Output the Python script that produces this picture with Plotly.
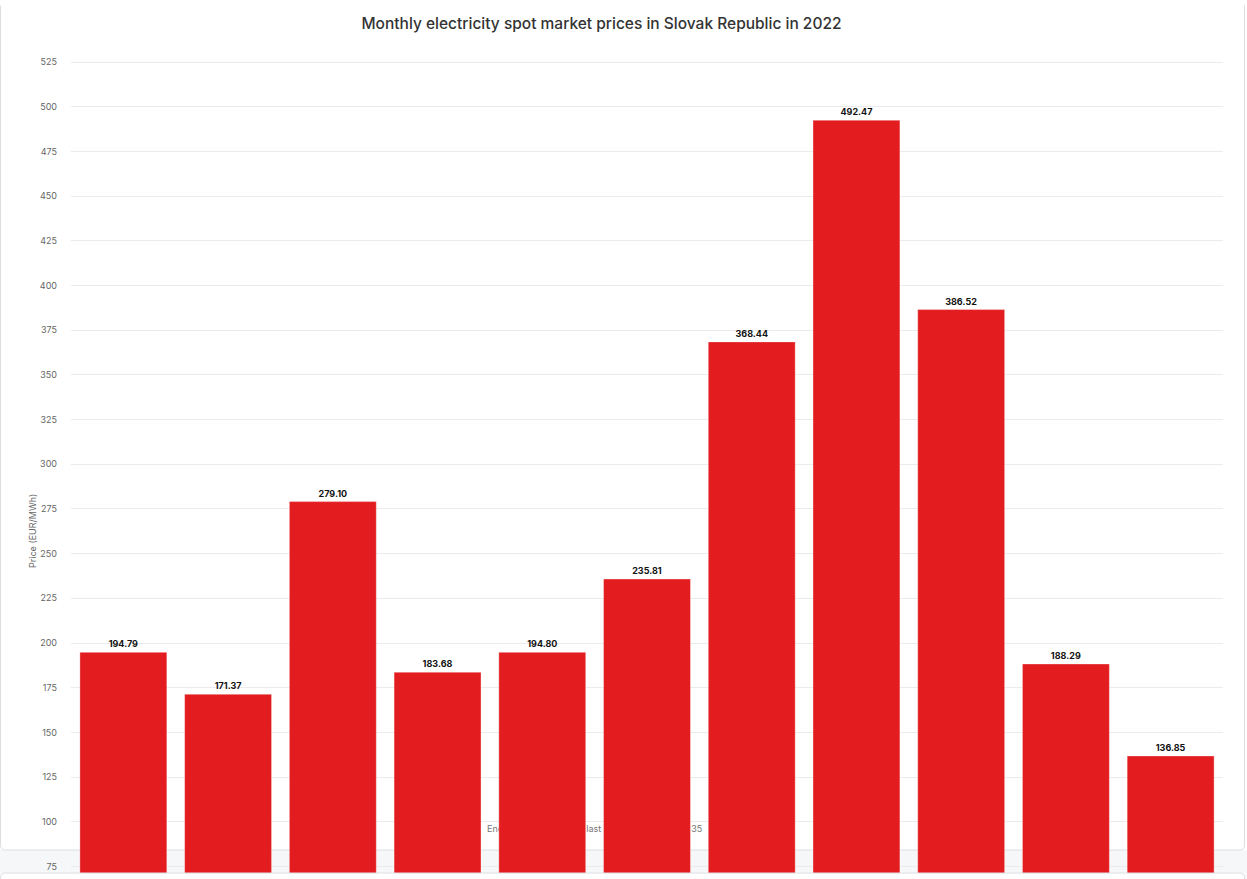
import plotly.graph_objects as go

# ---- data ----
months = ["Jan", "Feb", "Mar", "Apr", "May", "Jun", "Jul", "Aug", "Sep", "Oct", "Nov"]
prices = [194.79, 171.37, 279.10, 183.68, 194.80, 235.81, 368.44, 492.47, 386.52, 188.29, 136.85]
y_ticks = [75, 100, 125, 150, 175, 200, 225, 250, 275, 300, 325, 350, 375, 400, 425, 450, 475, 500, 525]
title_text = "Monthly electricity spot market prices in Slovak Republic in 2022"
y_title = "Price (EUR/MWh)"
footnote = "Energy spot prices SK, last updated 5.1.2023 13:35"

# ---- layout geometry (pixels) ----
W, H = 1247, 879
L, R, T, B = 71, 1223, 52, 879
px_per_unit = (866.5 - 62.0) / 450.0
y_top = 525 + (62.0 - T) / px_per_unit
y_bot = 75 - (B - 866.5) / px_per_unit


def px2x(px):
    return (px - L) / (R - L)


def py2y(py):
    return (B - py) / (B - T)


fig = go.Figure()
fig.add_trace(go.Bar(
    x=months,
    y=prices,
    marker=dict(color="#e31c1f", line=dict(color="rgba(255,255,255,0.35)", width=1)),
    texttemplate="<b>%{y:.2f}</b>",
    textposition="outside",
    textfont=dict(family="Inter", size=9, color="#111111"),
    cliponaxis=False,
    hoverinfo="skip",
))

shapes = []
# grey page strip between the two cards
shapes.append(dict(type="rect", xref="paper", yref="paper", layer="below",
                   x0=px2x(-5), x1=px2x(W + 5), y0=py2y(873), y1=py2y(850),
                   fillcolor="#f6f7f9", line=dict(width=0)))
# card outline (rounded corners)
r = 5
x0, x1, y0, y1 = 0.5, 1244.5, 0.5, 850
path = (f"M {px2x(x0)},{py2y(y0 + r)} L {px2x(x0)},{py2y(y1 - r)} "
        f"Q {px2x(x0)},{py2y(y1)} {px2x(x0 + r)},{py2y(y1)} "
        f"L {px2x(x1 - r)},{py2y(y1)} Q {px2x(x1)},{py2y(y1)} {px2x(x1)},{py2y(y1 - r)} "
        f"L {px2x(x1)},{py2y(y0 + r)}")
shapes.append(dict(type="path", xref="paper", yref="paper", layer="below",
                   path=path, line=dict(color="#dcdee2", width=1)))
# footnote text behind bars
shapes.append(dict(type="rect", xref="paper", yref="paper", layer="below",
                   x0=px2x(481), x1=px2x(800), y0=py2y(836), y1=py2y(820),
                   line=dict(width=0), fillcolor="rgba(0,0,0,0)",
                   label=dict(text=footnote, textposition="middle left",
                              font=dict(family="Inter", size=9, color="#777777"))))
# next card covering the bottom of the bars
x0b, x1b, y0b, y1b = 0.5, 1244.5, 873, 900
path2 = (f"M {px2x(x0b)},{py2y(y1b)} L {px2x(x0b)},{py2y(y0b + r)} "
         f"Q {px2x(x0b)},{py2y(y0b)} {px2x(x0b + r)},{py2y(y0b)} "
         f"L {px2x(x1b - r)},{py2y(y0b)} Q {px2x(x1b)},{py2y(y0b)} {px2x(x1b)},{py2y(y0b + r)} "
         f"L {px2x(x1b)},{py2y(y1b)} Z")
shapes.append(dict(type="rect", xref="paper", yref="paper", layer="above",
                   x0=px2x(-5), x1=px2x(W + 5), y0=py2y(900), y1=py2y(873.5),
                   fillcolor="#f6f7f9", line=dict(width=0)))
shapes.append(dict(type="path", xref="paper", yref="paper", layer="above",
                   path=path2, fillcolor="#ffffff", line=dict(color="#dcdee2", width=1)))

fig.update_layout(
    width=W, height=H,
    margin=dict(l=L, r=W - R, t=T, b=H - B, pad=0, autoexpand=False),
    paper_bgcolor="#ffffff",
    plot_bgcolor="rgba(0,0,0,0)",
    showlegend=False,
    bargap=0.17,
    title=dict(text=title_text, x=601.5 / W, xanchor="center", y=1 - 24 / H, yanchor="middle",
               font=dict(family="Inter", size=15.5, color="#333333", weight=500)),
    xaxis=dict(showticklabels=False, showgrid=False, zeroline=False, showline=False,
               ticks="", automargin=False, fixedrange=True),
    yaxis=dict(range=[y_bot, y_top], tickmode="array", tickvals=y_ticks,
               ticktext=[str(v) for v in y_ticks],
               showgrid=True, gridcolor="#ebebeb", gridwidth=1, zeroline=False, showline=False,
               tickfont=dict(family="Inter", size=9, color="#666666"),
               ticklabelstandoff=13, automargin=False, fixedrange=True),
    shapes=shapes,
    annotations=[dict(text=y_title, xref="paper", yref="paper", x=px2x(32), y=py2y(531),
                      xanchor="center", yanchor="middle", textangle=-90, showarrow=False,
                      font=dict(family="Inter", size=9, color="#666666"))],
)

fig.write_html("out.html",
               config={"displayModeBar": False},
               post_script="document.body.style.margin='0';document.body.style.overflow='hidden';")
